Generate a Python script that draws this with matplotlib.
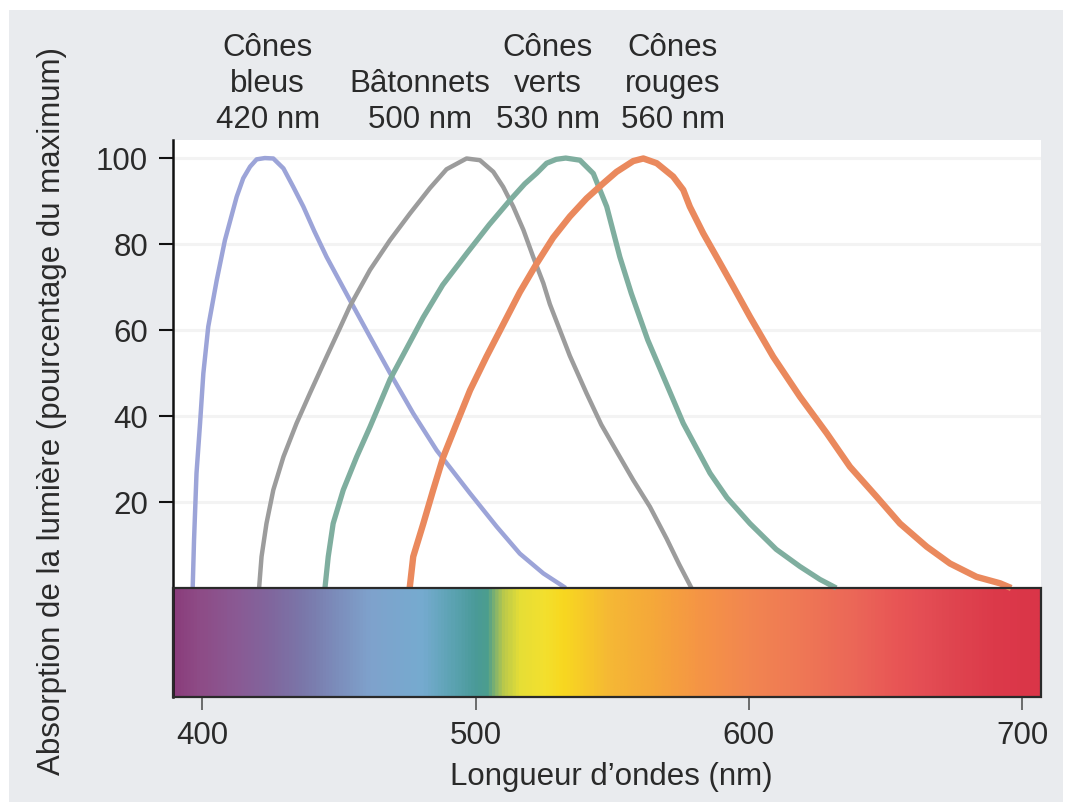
import numpy as np
import matplotlib
matplotlib.use("Agg")
import matplotlib.pyplot as plt
from matplotlib.colors import LinearSegmentedColormap, Normalize
from matplotlib.patches import Rectangle
from matplotlib.transforms import blended_transform_factory

plt.rcParams['font.family'] = ['Liberation Sans', 'DejaVu Sans']

# ---------------- data ----------------
blue_nm = [396.5, 397.0, 397.9, 399.2, 400.4, 402.2, 405.3, 408.3, 412.6, 415.0, 417.5, 419.9,
           422.9, 426.0, 429.7, 433.3, 437.0, 441.0, 445.5, 454.0, 461.4, 468.7, 477.2, 485.8,
           498.0, 507.7, 516.2, 524.8, 533.0]
blue_abs = [0, 11.2, 26.7, 38.3, 49.9, 60.8, 71.6, 80.9, 91.0, 95.3, 98.0, 99.7,
            100, 99.9, 97.6, 93.3, 88.7, 83.0, 77.0, 67.0, 58.4, 50.0, 40.6, 32.0,
            22.0, 14.3, 8.0, 3.4, 0]

rod_nm = [420.8, 421.7, 423.5, 426.0, 429.7, 434.5, 439.4, 445.5, 450.4, 454.0, 461.4, 468.7,
          476.0, 483.3, 489.4, 496.7, 501.6, 506.5, 510.1, 513.8, 517.5, 521.1, 524.8, 527.2,
          534.5, 540.6, 546.0, 551.6, 557.7, 563.8, 569.9, 574.5, 579.0]
rod_abs = [0, 7.3, 15.0, 22.8, 30.5, 38.3, 45.3, 53.8, 60.5, 65.5, 74.0, 80.9,
           87.1, 93.0, 97.4, 99.9, 99.5, 96.8, 93.3, 88.7, 83.3, 77.0, 70.9, 66.0,
           54.0, 45.3, 38.0, 31.8, 25.1, 18.9, 11.5, 5.5, 0]

green_nm = [444.9, 446.1, 447.9, 451.6, 456.5, 461.4, 468.7, 480.9, 488.0, 497.0, 505.0, 512.6,
            518.0, 522.4, 526.0, 529.5, 533.0, 538.2, 543.1, 548.0, 552.8, 557.0, 563.0, 569.5,
            576.0, 585.8, 592.0, 600.4, 610.0, 618.7, 626.0, 632.0]
green_abs = [0, 7.3, 15.0, 22.8, 30.5, 37.5, 48.5, 63.0, 70.5, 78.0, 84.5, 90.2,
             94.0, 96.5, 98.8, 99.7, 100, 99.5, 96.4, 88.7, 77.0, 68.5, 57.7, 48.0,
             38.3, 26.7, 21.0, 15.0, 9.0, 5.0, 2.0, 0]

red_nm = [475.9, 477.2, 480.9, 484.5, 488.2, 493.1, 498.0, 504.0, 510.1, 516.2, 522.4, 528.4,
          534.5, 540.6, 546.7, 551.6, 557.7, 561.4, 566.3, 572.3, 576.0, 578.4, 583.3, 588.2,
          594.3, 600.4, 608.9, 618.7, 628.5, 637.0, 646.8, 655.3, 665.1, 673.6, 683.3, 691.9,
          696.0]
red_abs = [0, 7.3, 15.0, 22.8, 30.5, 38.3, 46.0, 53.8, 61.3, 68.8, 75.5, 81.5,
           86.4, 90.6, 94.1, 96.8, 99.3, 99.9, 98.8, 95.7, 92.6, 88.7, 82.5, 77.0,
           70.1, 63.1, 53.8, 44.5, 36.0, 28.2, 21.2, 15.0, 9.6, 5.7, 2.6, 1.1,
           0]

curve_labels = [["Cônes", "bleus", "420 nm"],
                ["Bâtonnets", "500 nm"],
                ["Cônes", "verts", "530 nm"],
                ["Cônes", "rouges", "560 nm"]]
label_nm = [424.0, 479.7, 526.5, 572.2]

x_ticks = [400, 500, 600, 700]
y_ticks = [20, 40, 60, 80, 100]

spectrum_nm = [389, 398, 412, 425, 437, 450, 461, 480, 492, 500, 504, 510, 516, 525, 532,
               549, 565, 582, 600, 619, 640, 655, 665, 674, 690, 707]
spectrum_colors = ['#8a3d7c', '#8e4b86', '#8a5a94', '#80679e', '#7a78aa', '#7c8fbd', '#7fa2cc',
                   '#76abd0', '#5aa2b0', '#4a9a98', '#4c9e8e', '#b8c84c', '#e6de36', '#f3e02e',
                   '#f8d820', '#f5b835', '#f5a83a', '#f59545', '#f28650', '#ef7855', '#eb6658',
                   '#e85555', '#e44d54', '#e04650', '#dc3a4a', '#da3548']

# ---------------- figure ----------------
W, H = 1068, 810
fig = plt.figure(figsize=(W / 100, H / 100), dpi=100, facecolor='white')
fig.patches.append(Rectangle((9 / W, 1 - 802 / H), (1063 - 9) / W, (802 - 10) / H,
                             transform=fig.transFigure, facecolor='#e9ebee',
                             edgecolor='none', zorder=-10))

ax_l, ax_r, ax_t, ax_b = 173, 1041, 140, 697
ax = fig.add_axes([ax_l / W, 1 - ax_b / H, (ax_r - ax_l) / W, (ax_b - ax_t) / H])
ax.set_facecolor('white')

xmin, xmax = 389.3, 706.9
ymin, ymax = -25.35, 104.2
ax.set_xlim(xmin, xmax)
ax.set_ylim(ymin, ymax)

# faint grid
for yt in y_ticks:
    ax.axhline(yt, color='#f3f3f3', lw=2.2, zorder=0)

# spectrum bar
pos = [(v - xmin) / (xmax - xmin) for v in spectrum_nm]
pos[0], pos[-1] = 0.0, 1.0
cmap = LinearSegmentedColormap.from_list('spec', list(zip(pos, spectrum_colors)))
grad = np.linspace(xmin, xmax, 800)[None, :]
ax.imshow(grad, extent=[xmin, xmax, ymin, 0], aspect='auto', cmap=cmap,
          norm=Normalize(xmin, xmax), origin='lower', zorder=1)
ax.add_patch(Rectangle((xmin, ymin), xmax - xmin, -ymin, facecolor='none',
                       edgecolor='#2a2a2a', lw=1.6, zorder=3, clip_on=False))

# curves
kw = dict(solid_capstyle='butt', solid_joinstyle='round', zorder=2)
ax.plot(blue_nm, blue_abs, color='#9ca4d8', lw=3.2, **kw)
ax.plot(rod_nm, rod_abs, color='#9c9c9c', lw=3.2, **kw)
ax.plot(green_nm, green_abs, color='#7fae9f', lw=3.8, **kw)
ax.plot(red_nm, red_abs, color='#ea895d', lw=4.6, **kw)

# spines / ticks
for s in ['top', 'right', 'bottom']:
    ax.spines[s].set_visible(False)
ax.spines['left'].set_linewidth(1.8)
ax.spines['left'].set_color('#111111')

ax.set_yticks(y_ticks)
ax.set_yticklabels([str(v) for v in y_ticks])
ax.set_xticks(x_ticks)
ax.set_xticklabels([str(v) for v in x_ticks])
ax.tick_params(axis='y', direction='out', length=10, width=1.5, color='#111111',
               pad=8, labelsize=22.5, labelcolor='#2a2a2a')
ax.tick_params(axis='x', direction='out', length=9.5, width=1.2, color='#555555',
               pad=8, labelsize=22.5, labelcolor='#2a2a2a')

ax.set_xlabel("Longueur d\u2019ondes (nm)", fontsize=22.5, color='#2a2a2a')
ax.xaxis.label.set_va('center')
ax.xaxis.set_label_coords((611 - ax_l) / (ax_r - ax_l), (ax_b - 777) / (ax_b - ax_t))
ax.set_ylabel("Absorption de la lumière (pourcentage du maximum)", fontsize=22.5,
              color='#2a2a2a')
ax.yaxis.label.set_va('center')
ax.yaxis.set_label_coords((52 - ax_l) / (ax_r - ax_l), (ax_b - 411) / (ax_b - ax_t))

# labels above curves
tr = blended_transform_factory(ax.transData, fig.transFigure)
row_y = [48, 84, 120]
for lines, xn in zip(curve_labels, label_nm):
    rows = row_y[-len(lines):]
    for txt, py in zip(lines, rows):
        ax.text(xn, 1 - py / H, txt, transform=tr, ha='center', va='center',
                fontsize=22.5, color='#2a2a2a', clip_on=False)

fig.savefig('out.png', dpi=100, facecolor=fig.get_facecolor())
